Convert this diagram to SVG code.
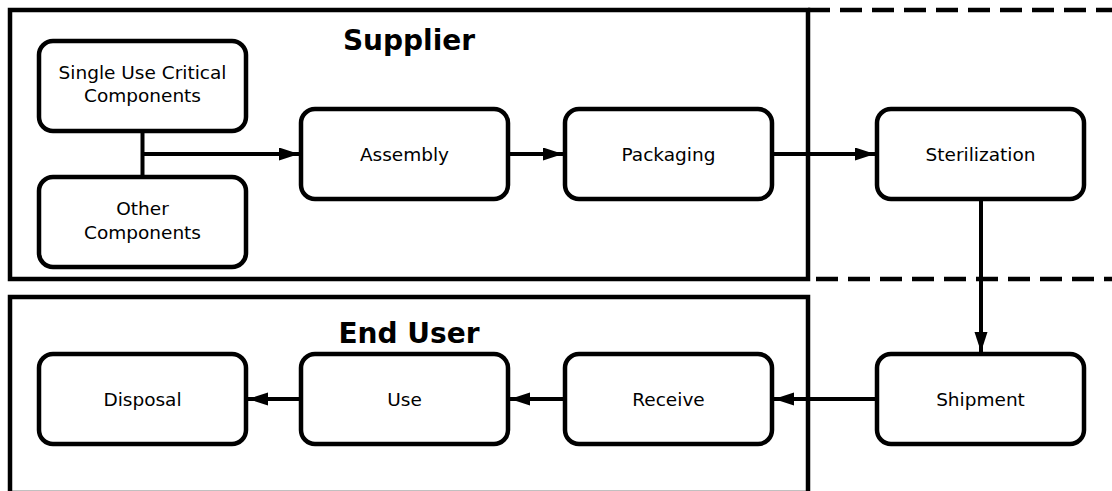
<svg xmlns="http://www.w3.org/2000/svg" width="1112" height="491" viewBox="0 0 1112 491">
  <style>
    .frame { fill: none; stroke: #000; stroke-width: 4.5; }
    .dash { fill: none; stroke: #000; stroke-width: 4.5; stroke-dasharray: 22 10; }
    .box { fill: #fff; stroke: #000; stroke-width: 4.5; }
    .conn { fill: none; stroke: #000; stroke-width: 4; }
    .lbl { font-family: "DejaVu Sans", Verdana, sans-serif; font-size: 18.5px; fill: #000; text-anchor: middle; }
    .title { font-family: "DejaVu Sans", Verdana, sans-serif; font-size: 28px; font-weight: bold; fill: #000; text-anchor: middle; }
  </style>
  <defs>
    <marker id="arrow" markerUnits="userSpaceOnUse" markerWidth="22" markerHeight="14" refX="20" refY="6.5" orient="auto">
      <path d="M0,0 L20,6.5 L0,13 z" fill="#000"/>
    </marker>
  </defs>
  <rect width="1112" height="491" fill="#fff"/>

  <g id="supplier-frame">
    <rect class="frame" x="10" y="10" width="798" height="269"/>
    <line class="dash" x1="808" y1="10" x2="1112" y2="10"/>
    <line class="dash" x1="816" y1="279" x2="1112" y2="279"/>
    <text class="title" x="409" y="50">Supplier</text>
  </g>
  <g id="enduser-frame">
    <rect class="frame" x="10" y="297" width="798" height="196"/>
    <text class="title" x="409" y="343">End User</text>
  </g>

  <g id="connectors">
    <line class="conn" x1="142.5" y1="131" x2="142.5" y2="177"/>
    <line class="conn" x1="142.5" y1="154" x2="299" y2="154" marker-end="url(#arrow)"/>
    <line class="conn" x1="508" y1="154" x2="563" y2="154" marker-end="url(#arrow)"/>
    <line class="conn" x1="772" y1="154" x2="875" y2="154" marker-end="url(#arrow)"/>
    <line class="conn" x1="981" y1="199" x2="981" y2="352" marker-end="url(#arrow)"/>
    <line class="conn" x1="877" y1="399" x2="774" y2="399" marker-end="url(#arrow)"/>
    <line class="conn" x1="565" y1="399" x2="510" y2="399" marker-end="url(#arrow)"/>
    <line class="conn" x1="301" y1="399" x2="248" y2="399" marker-end="url(#arrow)"/>
  </g>

  <g id="single-use">
    <rect class="box" x="39" y="41" width="207" height="90" rx="14"/>
    <text class="lbl" x="142.5" y="79">Single Use Critical</text>
    <text class="lbl" x="142.5" y="102">Components</text>
  </g>
  <g id="other-components">
    <rect class="box" x="39" y="177" width="207" height="90" rx="14"/>
    <text class="lbl" x="142.5" y="215">Other</text>
    <text class="lbl" x="142.5" y="239">Components</text>
  </g>
  <g id="assembly">
    <rect class="box" x="301" y="109" width="207" height="90" rx="14"/>
    <text class="lbl" x="404.5" y="161">Assembly</text>
  </g>
  <g id="packaging">
    <rect class="box" x="565" y="109" width="207" height="90" rx="14"/>
    <text class="lbl" x="668.5" y="161">Packaging</text>
  </g>
  <g id="sterilization">
    <rect class="box" x="877" y="109" width="207" height="90" rx="14"/>
    <text class="lbl" x="980.5" y="161">Sterilization</text>
  </g>
  <g id="shipment">
    <rect class="box" x="877" y="354" width="207" height="90" rx="14"/>
    <text class="lbl" x="980.5" y="406">Shipment</text>
  </g>
  <g id="receive">
    <rect class="box" x="565" y="354" width="207" height="90" rx="14"/>
    <text class="lbl" x="668.5" y="406">Receive</text>
  </g>
  <g id="use">
    <rect class="box" x="301" y="354" width="207" height="90" rx="14"/>
    <text class="lbl" x="404.5" y="406">Use</text>
  </g>
  <g id="disposal">
    <rect class="box" x="39" y="354" width="207" height="90" rx="14"/>
    <text class="lbl" x="142.5" y="406">Disposal</text>
  </g>
</svg>
